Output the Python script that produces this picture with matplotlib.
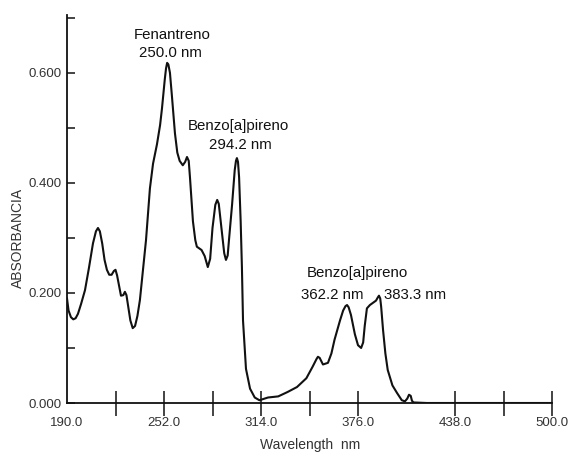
import matplotlib
matplotlib.use("Agg")
import matplotlib.pyplot as plt
from matplotlib.ticker import FixedLocator

plt.rcParams['font.family'] = ['Liberation Sans', 'DejaVu Sans']

wavelength = [190, 191, 192.5, 194, 195.5, 197, 199, 201.5, 204, 206.6, 208.5, 209.8, 211,
              212.5, 214, 215.5, 217, 218.5, 220, 221, 222, 223.5, 224.5, 226, 227, 228,
              229, 230.5, 232, 233.5, 235, 236.6, 238.5, 240.5, 243, 245, 247.5, 249.5,
              250.7, 252.5, 253.3, 254, 254.8, 255.8, 257, 259, 260.5, 262, 264, 265.5,
              266.7, 267.8, 268.6, 270.5, 272, 273, 276, 278, 280, 281.5, 283, 284.8, 286,
              287, 289, 290.5, 291.6, 292.7, 293.5, 295.5, 297.2, 298, 298.6, 299.3, 300,
              301, 301.8, 302.5, 304.4, 307, 310, 313, 318.5, 325, 331, 337, 343, 347,
              349.5, 350.4, 351.5, 353.6, 356.8, 359, 361, 364.5, 366.5, 368, 369, 370,
              371.5, 374, 376, 378, 379.3, 380.3, 381.7, 383.6, 385.5, 387.5, 388.7,
              389.4, 390.2, 390.8, 392, 393.5, 395, 398, 401, 404, 406, 407.5, 408.6,
              409.7, 410.5, 411.5, 420, 460, 500]
absorbance = [0.190, 0.168, 0.156, 0.152, 0.154, 0.162, 0.180, 0.205, 0.245, 0.290, 0.312,
              0.318, 0.312, 0.290, 0.260, 0.242, 0.233, 0.233, 0.240, 0.242, 0.232, 0.210,
              0.195, 0.196, 0.202, 0.196, 0.178, 0.150, 0.136, 0.140, 0.158, 0.187, 0.240,
              0.296, 0.390, 0.435, 0.470, 0.505, 0.535, 0.588, 0.608, 0.618, 0.615, 0.600,
              0.560, 0.490, 0.455, 0.440, 0.432, 0.438, 0.447, 0.440, 0.410, 0.330, 0.296,
              0.284, 0.278, 0.267, 0.247, 0.262, 0.318, 0.360, 0.369, 0.362, 0.310, 0.272,
              0.260, 0.268, 0.295, 0.360, 0.423, 0.440, 0.445, 0.438, 0.410, 0.330, 0.247,
              0.150, 0.062, 0.026, 0.010, 0.005, 0.010, 0.012, 0.020, 0.029, 0.045, 0.066,
              0.080, 0.084, 0.082, 0.070, 0.073, 0.090, 0.115, 0.150, 0.168, 0.176, 0.178,
              0.174, 0.160, 0.125, 0.105, 0.100, 0.110, 0.140, 0.172, 0.178, 0.182, 0.186,
              0.192, 0.195, 0.190, 0.175, 0.133, 0.090, 0.060, 0.032, 0.018, 0.005, 0.003,
              0.008, 0.015, 0.013, 0.004, 0.001, 0.0, 0.0, 0.0]

xtick_major = [190, 252, 314, 376, 438, 500]
xtick_minor = [221, 283, 345, 469]
ytick_major = [0.0, 0.2, 0.4, 0.6]
ytick_minor = [0.1, 0.3, 0.5, 0.7]

labels = [
    ("Fenantreno", 257.1, 0.669, 'center'),
    ("250.0 nm", 255.8, 0.636, 'center'),
    ("Benzo[a]pireno", 299.3, 0.504, 'center'),
    ("294.2 nm", 300.6, 0.469, 'center'),
    ("Benzo[a]pireno", 375.4, 0.236, 'center'),
    ("362.2 nm", 359.4, 0.196, 'center'),
    ("383.3 nm", 412.4, 0.196, 'center'),
]

fig = plt.figure(figsize=(5.7, 4.54), dpi=100)
ax = fig.add_axes([67/570, 1 - 403/454, 485/570, 388/454])

ax.plot(wavelength, absorbance, color='#111111', lw=1.5, solid_joinstyle='round')

ax.set_xlim(190, 500)
ax.set_ylim(0, 0.705)
for s in ['top', 'right']:
    ax.spines[s].set_visible(False)
ax.spines['left'].set_bounds(0, 0.705)
for s in ['left', 'bottom']:
    ax.spines[s].set_linewidth(1.3)
    ax.spines[s].set_color('#111111')

ax.set_xticks(xtick_major)
ax.set_xticklabels([f"{v:.1f}" for v in xtick_major])
ax.xaxis.set_minor_locator(FixedLocator(xtick_minor))
ax.tick_params(axis='x', which='both', direction='inout', length=18, width=1.1,
               colors='#111111', labelsize=9.5, pad=1, labelcolor='#333333')
ax.xaxis.get_major_ticks()[0].tick1line.set_visible(False)

ax.set_yticks(ytick_major)
ax.set_yticklabels([f"{v:.3f}" for v in ytick_major])
ax.yaxis.set_minor_locator(FixedLocator(ytick_minor))
ax.tick_params(axis='y', which='both', direction='in', length=6, width=1.1,
               colors='#111111', labelsize=9.5, pad=4, labelcolor='#333333')

ax.set_ylabel("ABSORBANCIA", fontsize=10, color='#333333')
ax.yaxis.set_label_coords(-0.087, 0.425)
ax.set_xlabel("Wavelength  nm", fontsize=10, color='#333333')
ax.xaxis.set_label_coords(0.502, -0.090)

for txt, x, y, ha in labels:
    ax.text(x, y, txt, ha=ha, va='center', fontsize=10.8, color='#111111')

fig.savefig("out.png", dpi=100)
